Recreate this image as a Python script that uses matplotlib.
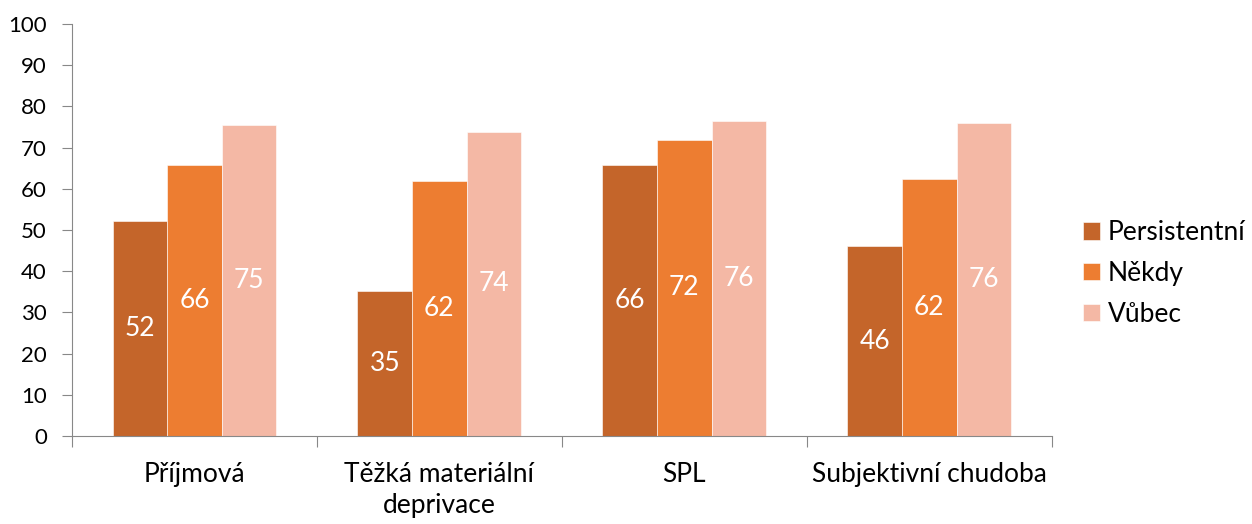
import matplotlib.pyplot as plt
import numpy as np

plt.rcParams['font.family'] = ['Lato', 'DejaVu Sans']

categories = ['Příjmová', 'Těžká materiální\ndeprivace', 'SPL', 'Subjektivní chudoba']
series = ['Persistentní', 'Někdy', 'Vůbec']
persistentni = [52.3, 35.1, 65.8, 46.1]
nekdy = [65.8, 62.0, 71.9, 62.4]
vubec = [75.4, 73.9, 76.4, 76.0]
colors = ['#C4652A', '#ED7D31', '#F4B8A5']

fig = plt.figure(figsize=(12.52, 5.24), dpi=100)
ax = fig.add_axes([0.0575, 0.168, 0.7825, 0.786])

x = np.arange(len(categories))
w = 0.223
for i, (name, vals) in enumerate(zip(series, [persistentni, nekdy, vubec])):
    bars = ax.bar(x + (i - 1) * w, vals, w, color=colors[i], label=name,
                  edgecolor='white', linewidth=0.4)
    for b, v in zip(bars, vals):
        ax.text(b.get_x() + b.get_width() / 2, v / 2, '%d' % round(v),
                ha='center', va='center', color='white', fontsize=19)

ax.set_xlim(-0.5, len(categories) - 0.5)
ax.set_ylim(0, 100)
ax.set_yticks(range(0, 101, 10))
ax.tick_params(axis='y', labelsize=16, length=7, color='#888888', pad=11)
ax.set_xticks(np.arange(-0.5, len(categories)), minor=False)
ax.set_xticklabels([])
ax.set_xticks(x, minor=True)
ax.set_xticklabels(categories, minor=True, fontsize=19)
ax.tick_params(axis='x', which='major', length=8, color='#888888')
ax.tick_params(axis='x', which='minor', length=0, pad=19)
for lbl in ax.get_xticklabels(minor=True):
    lbl.set_linespacing(1.3)

for s in ['top', 'right']:
    ax.spines[s].set_visible(False)
for s in ['left', 'bottom']:
    ax.spines[s].set_color('#888888')

ax.legend(loc='center left', bbox_to_anchor=(0.865, 0.478), bbox_transform=fig.transFigure,
          frameon=False, fontsize=19, handlelength=0.63, handleheight=0.63,
          labelspacing=0.6, handletextpad=0.3, borderpad=0, borderaxespad=0)

plt.savefig('out.png', dpi=100)
